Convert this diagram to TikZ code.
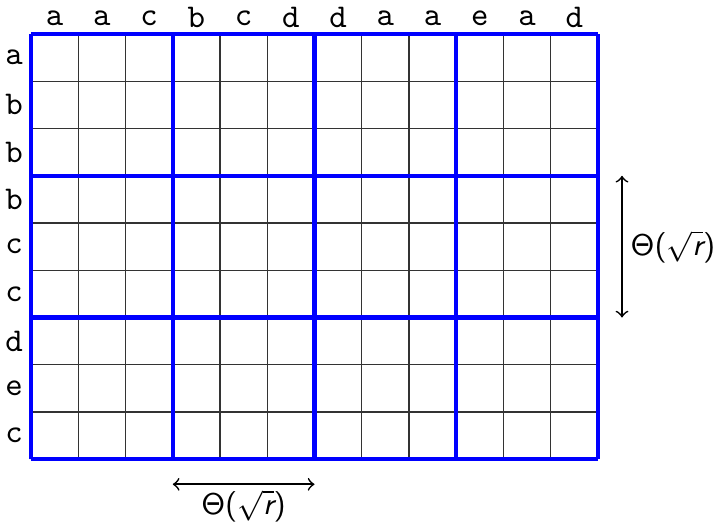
\documentclass[tikz,border=0pt]{standalone}
\usepackage{amsmath}
\usepackage{tikz}
\usetikzlibrary{arrows.meta,positioning,calc}

\begin{document}
\begin{tikzpicture}[
  font=\normalsize,
  >=to,
  cell/.style={draw=black!80, line width=0.4pt},
  block/.style={draw=blue, line width=1.3pt},
  letter/.style={font=\ttfamily, inner sep=1pt},
  span/.style={<->, line width=0.5pt, draw=black},
  size/.style={font=\sffamily\fontsize{9.2}{11}\selectfont, inner sep=1pt}
]
\useasboundingbox (-0.328,-0.677) rectangle (7.217,4.86);

% ===== Grid =====
\draw[cell] (0,0) grid[step=0.5] (6,4.5);
\draw[block] (0,0) grid[step=1.5] (6,4.5);

% ===== Column and row letters =====
\foreach \ch [count=\i from 0] in {a,a,c,b,c,d,d,a,a,e,a,d}
  \node[letter] (top\i) at ({0.25+0.5*\i},4.67) {\ch};
\foreach \ch [count=\j from 0] in {a,b,b,b,c,c,d,e,c}
  \node[letter] (left\j) at (-0.18,{4.25-0.5*\j}) {\ch};

% ===== Block size markers =====
\coordinate (vtop) at (6.254,3.0);
\coordinate (vbot) at (6.254,1.5);
\coordinate (hleft) at (1.5,-0.265);
\coordinate (hright) at (3.0,-0.265);

\draw[span] (vtop) -- (vbot);
\draw[span] (hleft) -- (hright);

\node[size, right=0.05cm of $(vtop)!0.5!(vbot)$] (vlabel) {$\mathsf{\Theta}$($\sqrt{\textit{r}}$)};
\node[size, below=0.02cm of $(hleft)!0.5!(hright)$] (hlabel) {$\mathsf{\Theta}$($\sqrt{\textit{r}}$)};

\end{tikzpicture}
\end{document}
